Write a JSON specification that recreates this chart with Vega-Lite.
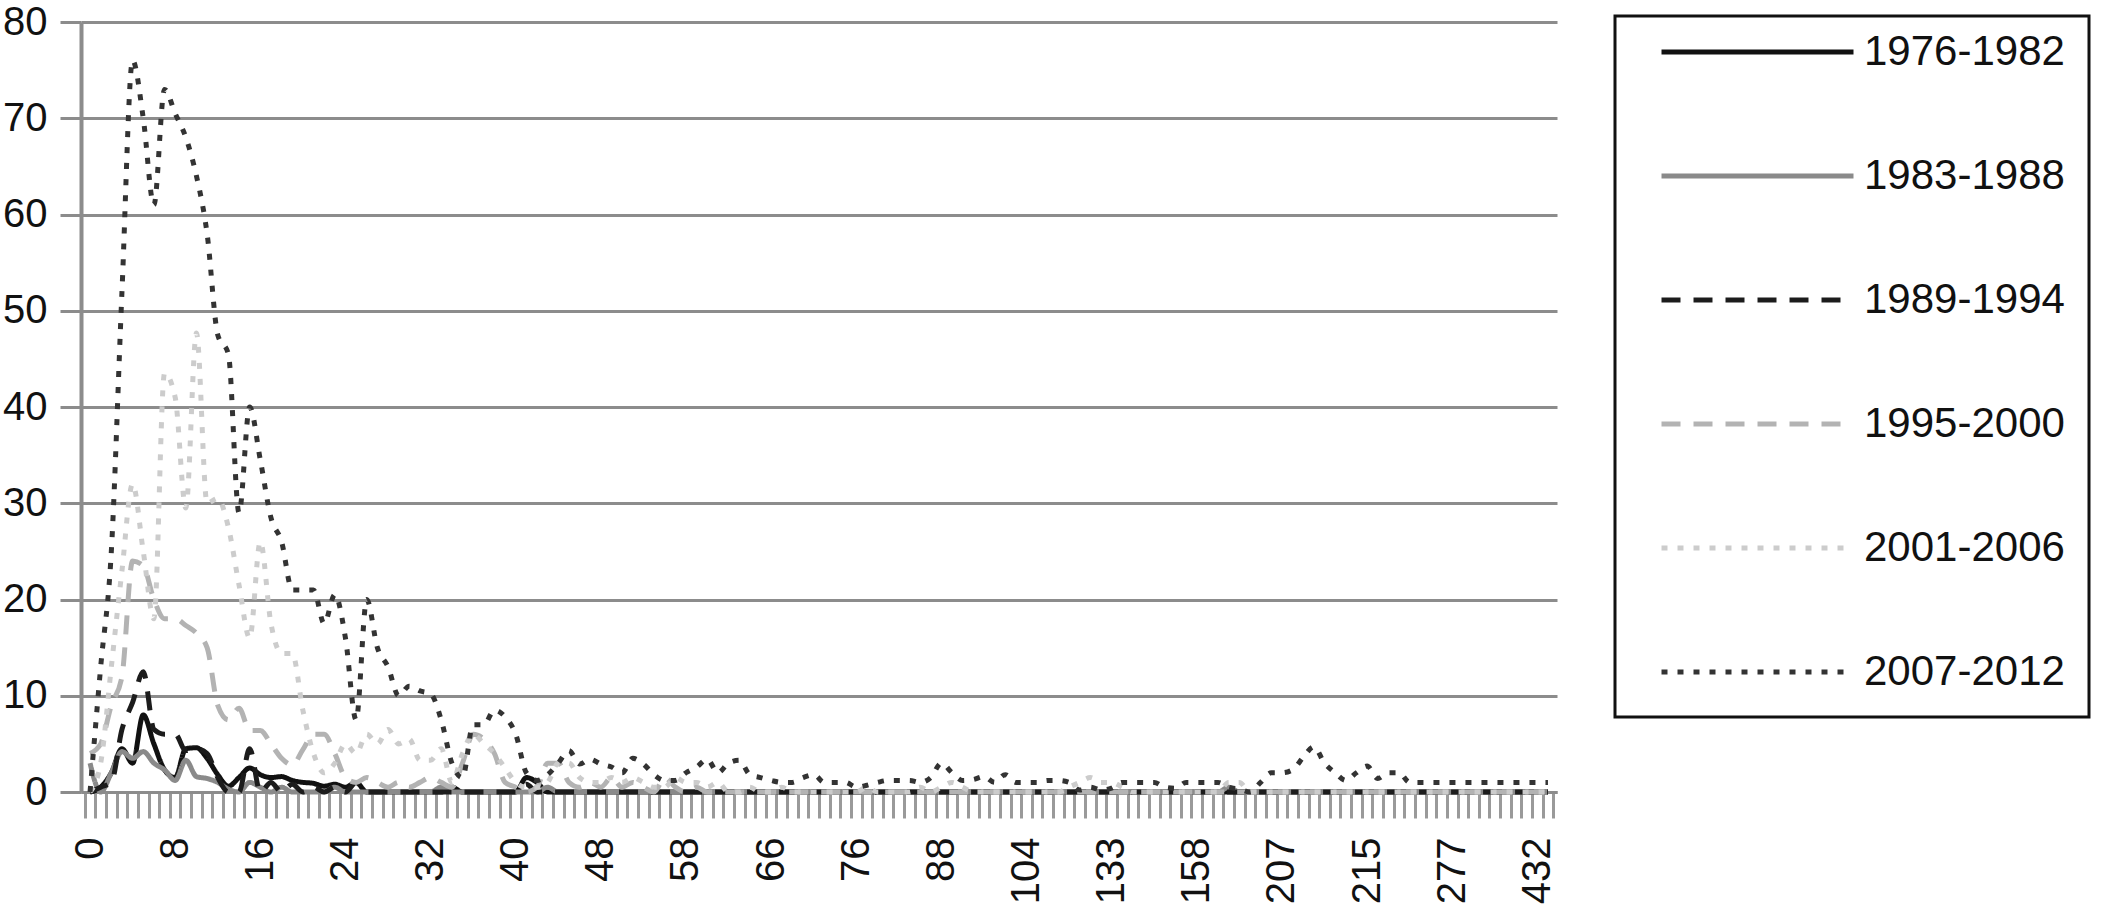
{
  "$schema": "https://vega.github.io/schema/vega-lite/v6.json",
  "width": 1476,
  "height": 770,
  "autosize": {"type": "none"},
  "padding": {"left": 81, "top": 22, "right": 558, "bottom": 112},
  "background": "white",
  "config": {
    "view": {"stroke": null},
    "font": "Liberation Sans",
    "legend": {"strokeWidth": 3}
  },
  "data": {
    "values": [
      {"d":0,"pA":0,"pB":3,"pC":0,"pD":4,"pE":0,"pF":0},
      {"d":1,"pA":0.5,"pB":0,"pC":0.5,"pD":5,"pE":3,"pF":13},
      {"d":2,"pA":2,"pB":2,"pC":1,"pD":9,"pE":13,"pF":25},
      {"d":3,"pA":4.5,"pB":4.2,"pC":6.5,"pD":12,"pE":23,"pF":52},
      {"d":4,"pA":3,"pB":3.5,"pC":9.3,"pD":24,"pE":32,"pF":76},
      {"d":5,"pA":8,"pB":4.2,"pC":12.5,"pD":23.5,"pE":25,"pF":70},
      {"d":6,"pA":5,"pB":3,"pC":6.5,"pD":20,"pE":18,"pF":61},
      {"d":7,"pA":2.3,"pB":2.3,"pC":6,"pD":18,"pE":43.5,"pF":73},
      {"d":8,"pA":1.5,"pB":1.2,"pC":6,"pD":18,"pE":41,"pF":70.5},
      {"d":9,"pA":4.5,"pB":3.3,"pC":4.3,"pD":17.3,"pE":29.5,"pF":68},
      {"d":10,"pA":4.6,"pB":1.6,"pC":4.5,"pD":16.5,"pE":47.7,"pF":64},
      {"d":11,"pA":3.5,"pB":1.4,"pC":4,"pD":15,"pE":30,"pF":58},
      {"d":12,"pA":1.8,"pB":1,"pC":1.5,"pD":9,"pE":30.5,"pF":47.5},
      {"d":13,"pA":0.6,"pB":0.3,"pC":0,"pD":7.5,"pE":27.5,"pF":45.5},
      {"d":14,"pA":1.5,"pB":0,"pC":0,"pD":8.7,"pE":21.5,"pF":29},
      {"d":15,"pA":2.5,"pB":1,"pC":4.5,"pD":6.4,"pE":16,"pF":40},
      {"d":16,"pA":1.8,"pB":0.5,"pC":0,"pD":6.4,"pE":26,"pF":34.5},
      {"d":17,"pA":1.5,"pB":0,"pC":1,"pD":5,"pE":17.5,"pF":28.5},
      {"d":18,"pA":1.6,"pB":0.5,"pC":0,"pD":3.5,"pE":14.4,"pF":26},
      {"d":19,"pA":1.2,"pB":0,"pC":0.8,"pD":2.8,"pE":14.4,"pF":21},
      {"d":20,"pA":1,"pB":0,"pC":0,"pD":4.4,"pE":8.5,"pF":21},
      {"d":21,"pA":0.9,"pB":0,"pC":0.5,"pD":6,"pE":4,"pF":21},
      {"d":22,"pA":0.6,"pB":0,"pC":0,"pD":6,"pE":2,"pF":17.5},
      {"d":23,"pA":0.8,"pB":0.5,"pC":0.5,"pD":4,"pE":3,"pF":20.5},
      {"d":24,"pA":0.5,"pB":0,"pC":0,"pD":1.5,"pE":5,"pF":16},
      {"d":25,"pA":1,"pB":0,"pC":1,"pD":1,"pE":4,"pF":7.5},
      {"d":26,"pA":0,"pB":0,"pC":0,"pD":1.5,"pE":6,"pF":20},
      {"d":27,"pA":0,"pB":0,"pC":0,"pD":1,"pE":5,"pF":15},
      {"d":28,"pA":0,"pB":0,"pC":0,"pD":0.5,"pE":6.5,"pF":13},
      {"d":29,"pA":0,"pB":0,"pC":0,"pD":1,"pE":5,"pF":10},
      {"d":30,"pA":0,"pB":0,"pC":0,"pD":0.5,"pE":5.5,"pF":11},
      {"d":31,"pA":0,"pB":0,"pC":0,"pD":1,"pE":3.3,"pF":10.5},
      {"d":32,"pA":0,"pB":0,"pC":0,"pD":1.5,"pE":3.3,"pF":10.2},
      {"d":33,"pA":0,"pB":0.5,"pC":0,"pD":1,"pE":4.5,"pF":7.5},
      {"d":34,"pA":0.5,"pB":0,"pC":0,"pD":0.5,"pE":1,"pF":3},
      {"d":35,"pA":0,"pB":0,"pC":0,"pD":3,"pE":4,"pF":1.5},
      {"d":36,"pA":0,"pB":0,"pC":0,"pD":6,"pE":6,"pF":7},
      {"d":37,"pA":0,"pB":0,"pC":0,"pD":5.5,"pE":5,"pF":7},
      {"d":38,"pA":0,"pB":0,"pC":0,"pD":4,"pE":4,"pF":8.5},
      {"d":39,"pA":0,"pB":0,"pC":0,"pD":1,"pE":2.5,"pF":7.8},
      {"d":40,"pA":0,"pB":0,"pC":0,"pD":0.5,"pE":1,"pF":6},
      {"d":41,"pA":1.5,"pB":0,"pC":0.8,"pD":0,"pE":0.5,"pF":2},
      {"d":42,"pA":1,"pB":0,"pC":0,"pD":0.5,"pE":0.5,"pF":1.2},
      {"d":43,"pA":0,"pB":0.5,"pC":0,"pD":3,"pE":1,"pF":1.8},
      {"d":44,"pA":0,"pB":0,"pC":0,"pD":3,"pE":3,"pF":3},
      {"d":45,"pA":0,"pB":0,"pC":0,"pD":1,"pE":3,"pF":4.3},
      {"d":46,"pA":0,"pB":0,"pC":0,"pD":0.5,"pE":1.5,"pF":2.9},
      {"d":47,"pA":0,"pB":0,"pC":0,"pD":1,"pE":1,"pF":3.4},
      {"d":48,"pA":0,"pB":0,"pC":0,"pD":0.5,"pE":1,"pF":2.9},
      {"d":49,"pA":0,"pB":0,"pC":0,"pD":1.5,"pE":1.5,"pF":2.6},
      {"d":50,"pA":0,"pB":0,"pC":0,"pD":0.5,"pE":1,"pF":2},
      {"d":51,"pA":0,"pB":0,"pC":0,"pD":1,"pE":1.5,"pF":3.5},
      {"d":52,"pA":0,"pB":0,"pC":0,"pD":0.5,"pE":1,"pF":2.9},
      {"d":53,"pA":0,"pB":0,"pC":0,"pD":0,"pE":0.5,"pF":1.8},
      {"d":54,"pA":0,"pB":0,"pC":0,"pD":1.5,"pE":0.5,"pF":1.2},
      {"d":56,"pA":0,"pB":0,"pC":0,"pD":0.5,"pE":1.5,"pF":1.2},
      {"d":58,"pA":0,"pB":0,"pC":0,"pD":0,"pE":1,"pF":2},
      {"d":59,"pA":0,"pB":0,"pC":0,"pD":0.5,"pE":1,"pF":2.6},
      {"d":60,"pA":0,"pB":0,"pC":0,"pD":0,"pE":0.5,"pF":3.4},
      {"d":61,"pA":0,"pB":0,"pC":0,"pD":0,"pE":1,"pF":2},
      {"d":62,"pA":0,"pB":0,"pC":0,"pD":0,"pE":0,"pF":3},
      {"d":63,"pA":0,"pB":0,"pC":0,"pD":0,"pE":0,"pF":3.3},
      {"d":64,"pA":0,"pB":0,"pC":0,"pD":0,"pE":0.5,"pF":1.8},
      {"d":65,"pA":0,"pB":0,"pC":0,"pD":0,"pE":0,"pF":1.5},
      {"d":66,"pA":0,"pB":0,"pC":0,"pD":0,"pE":0,"pF":1.2},
      {"d":67,"pA":0,"pB":0,"pC":0,"pD":0,"pE":0.5,"pF":1},
      {"d":68,"pA":0,"pB":0,"pC":0,"pD":0,"pE":0,"pF":1},
      {"d":69,"pA":0,"pB":0,"pC":0,"pD":0,"pE":0,"pF":1.5},
      {"d":70,"pA":0,"pB":0,"pC":0,"pD":0,"pE":0,"pF":1.8},
      {"d":72,"pA":0,"pB":0,"pC":0,"pD":0,"pE":0,"pF":1},
      {"d":73,"pA":0,"pB":0,"pC":0,"pD":0,"pE":0,"pF":1},
      {"d":74,"pA":0,"pB":0,"pC":0,"pD":0,"pE":0,"pF":1},
      {"d":76,"pA":0,"pB":0,"pC":0,"pD":0,"pE":0,"pF":0.5},
      {"d":77,"pA":0,"pB":0,"pC":0,"pD":0,"pE":0.5,"pF":0.7},
      {"d":78,"pA":0,"pB":0,"pC":0,"pD":0,"pE":0,"pF":1},
      {"d":80,"pA":0,"pB":0,"pC":0,"pD":0,"pE":0,"pF":1.2},
      {"d":82,"pA":0,"pB":0,"pC":0,"pD":0,"pE":0,"pF":1.2},
      {"d":84,"pA":0,"pB":0,"pC":0,"pD":0,"pE":0,"pF":1.2},
      {"d":85,"pA":0,"pB":0,"pC":0,"pD":0,"pE":0.5,"pF":1},
      {"d":86,"pA":0,"pB":0,"pC":0,"pD":0,"pE":0,"pF":1.5},
      {"d":88,"pA":0,"pB":0,"pC":0,"pD":0,"pE":0.5,"pF":3},
      {"d":90,"pA":0,"pB":0,"pC":0,"pD":0,"pE":1,"pF":2},
      {"d":92,"pA":0,"pB":0,"pC":0,"pD":0,"pE":0.5,"pF":1.2},
      {"d":94,"pA":0,"pB":0,"pC":0,"pD":0,"pE":0,"pF":1.3},
      {"d":96,"pA":0,"pB":0,"pC":0,"pD":0,"pE":0,"pF":1.6},
      {"d":98,"pA":0,"pB":0,"pC":0,"pD":0,"pE":0,"pF":1},
      {"d":100,"pA":0,"pB":0,"pC":0,"pD":0,"pE":0,"pF":1.8},
      {"d":102,"pA":0,"pB":0,"pC":0,"pD":0,"pE":0,"pF":1},
      {"d":104,"pA":0,"pB":0,"pC":0,"pD":0,"pE":0,"pF":1},
      {"d":106,"pA":0,"pB":0,"pC":0,"pD":0,"pE":0,"pF":1},
      {"d":108,"pA":0,"pB":0,"pC":0,"pD":0,"pE":0,"pF":1.2},
      {"d":110,"pA":0,"pB":0,"pC":0,"pD":0,"pE":0,"pF":1.2},
      {"d":113,"pA":0,"pB":0,"pC":0,"pD":0,"pE":0.5,"pF":1},
      {"d":118,"pA":0,"pB":0,"pC":0,"pD":0,"pE":1,"pF":0.2},
      {"d":122,"pA":0,"pB":0,"pC":0,"pD":0,"pE":1.5,"pF":0.5},
      {"d":127,"pA":0,"pB":0,"pC":0,"pD":0,"pE":1,"pF":0.2},
      {"d":133,"pA":0,"pB":0,"pC":0,"pD":0,"pE":1,"pF":0.4},
      {"d":136,"pA":0,"pB":0,"pC":0,"pD":0,"pE":0.5,"pF":1},
      {"d":139,"pA":0,"pB":0,"pC":0,"pD":0,"pE":0,"pF":1},
      {"d":142,"pA":0,"pB":0,"pC":0,"pD":0,"pE":0,"pF":1},
      {"d":145,"pA":0,"pB":0,"pC":0,"pD":0,"pE":0,"pF":1},
      {"d":148,"pA":0,"pB":0,"pC":0,"pD":0,"pE":0,"pF":0.5},
      {"d":151,"pA":0,"pB":0,"pC":0,"pD":0,"pE":0,"pF":0.4},
      {"d":155,"pA":0,"pB":0,"pC":0,"pD":0,"pE":0,"pF":1},
      {"d":158,"pA":0,"pB":0,"pC":0,"pD":0,"pE":0,"pF":1},
      {"d":162,"pA":0,"pB":0,"pC":0,"pD":0,"pE":0,"pF":1},
      {"d":168,"pA":0,"pB":0,"pC":0,"pD":0,"pE":0,"pF":1},
      {"d":175,"pA":0,"pB":0.5,"pC":0,"pD":0,"pE":1,"pF":0.5},
      {"d":182,"pA":0,"pB":0,"pC":0,"pD":0,"pE":1,"pF":0.3},
      {"d":190,"pA":0,"pB":0,"pC":0,"pD":0,"pE":0,"pF":0},
      {"d":196,"pA":0,"pB":0,"pC":0,"pD":0,"pE":0,"pF":1},
      {"d":202,"pA":0,"pB":0,"pC":0,"pD":0,"pE":0,"pF":2},
      {"d":207,"pA":0,"pB":0,"pC":0,"pD":0,"pE":0,"pF":2},
      {"d":208,"pA":0,"pB":0,"pC":0,"pD":0,"pE":0,"pF":2.3},
      {"d":209,"pA":0,"pB":0,"pC":0,"pD":0,"pE":0,"pF":3.6},
      {"d":210,"pA":0,"pB":0,"pC":0,"pD":0,"pE":0,"pF":4.7},
      {"d":211,"pA":0,"pB":0,"pC":0,"pD":0,"pE":0,"pF":3},
      {"d":212,"pA":0,"pB":0,"pC":0,"pD":0,"pE":0,"pF":2},
      {"d":213,"pA":0,"pB":0,"pC":0,"pD":0,"pE":0,"pF":1.2},
      {"d":214,"pA":0,"pB":0,"pC":0,"pD":0,"pE":0,"pF":2},
      {"d":215,"pA":0,"pB":0,"pC":0,"pD":0,"pE":0,"pF":2.7},
      {"d":218,"pA":0,"pB":0,"pC":0,"pD":0,"pE":0,"pF":1.4},
      {"d":222,"pA":0,"pB":0,"pC":0,"pD":0,"pE":0,"pF":2},
      {"d":228,"pA":0,"pB":0,"pC":0,"pD":0,"pE":0,"pF":2},
      {"d":235,"pA":0,"pB":0,"pC":0,"pD":0,"pE":0,"pF":1},
      {"d":245,"pA":0,"pB":0,"pC":0,"pD":0,"pE":0,"pF":1},
      {"d":255,"pA":0,"pB":0,"pC":0,"pD":0,"pE":0,"pF":1},
      {"d":266,"pA":0,"pB":0,"pC":0,"pD":0,"pE":0,"pF":1},
      {"d":277,"pA":0,"pB":0,"pC":0,"pD":0,"pE":0,"pF":1},
      {"d":290,"pA":0,"pB":0,"pC":0,"pD":0,"pE":0,"pF":1},
      {"d":305,"pA":0,"pB":0,"pC":0,"pD":0,"pE":0,"pF":1},
      {"d":320,"pA":0,"pB":0,"pC":0,"pD":0,"pE":0,"pF":1},
      {"d":340,"pA":0,"pB":0,"pC":0,"pD":0,"pE":0,"pF":1},
      {"d":360,"pA":0,"pB":0,"pC":0,"pD":0,"pE":0,"pF":1},
      {"d":385,"pA":0,"pB":0,"pC":0,"pD":0,"pE":0,"pF":1},
      {"d":410,"pA":0,"pB":0,"pC":0,"pD":0,"pE":0,"pF":1},
      {"d":432,"pA":0,"pB":0,"pC":0,"pD":0,"pE":0,"pF":1},
      {"d":520,"pA":0,"pB":0,"pC":0,"pD":0,"pE":0,"pF":1}
    ]
  },
  "transform": [
    {"fold": ["pA", "pB", "pC", "pD", "pE", "pF"], "as": ["period", "value"]}
  ],
  "mark": {"type": "line", "interpolate": "monotone", "strokeWidth": 5, "strokeCap": "butt", "strokeJoin": "round"},
  "encoding": {
    "x": {
      "field": "d",
      "type": "ordinal",
      "bandPosition": 0.5,
      "scale": {"type": "band", "paddingInner": 0, "paddingOuter": 0.35},
      "axis": {
        "title": null,
        "grid": false,
        "domain": true,
        "domainColor": "#8c8c8c",
        "domainWidth": 3,
        "ticks": true,
        "tickBand": "extent",
        "tickSize": 26,
        "tickWidth": 3,
        "tickColor": "#9a9a9a",
        "labelAngle": -90,
        "labelPadding": 19,
        "labelFontSize": 40,
        "labelColor": "#111111",
        "labelOverlap": false,
        "labelExpr": "indexof([0,8,16,24,32,40,48,58,66,76,88,104,133,158,207,215,277,432], datum.value) >= 0 ? datum.label : ''"
      }
    },
    "y": {
      "field": "value",
      "type": "quantitative",
      "scale": {"domain": [0, 80], "nice": false},
      "axis": {
        "title": null,
        "values": [0, 10, 20, 30, 40, 50, 60, 70, 80],
        "grid": true,
        "gridColor": "#8c8c8c",
        "gridWidth": 3,
        "gridOpacity": 1,
        "domain": true,
        "domainColor": "#8c8c8c",
        "domainWidth": 4,
        "ticks": true,
        "tickSize": 21,
        "tickWidth": 3,
        "tickColor": "#8c8c8c",
        "labelFontSize": 40,
        "labelPadding": 13,
        "labelColor": "#111111"
      }
    },
    "color": {
      "field": "period",
      "type": "nominal",
      "scale": {
        "domain": ["pA", "pB", "pC", "pD", "pE", "pF"],
        "range": ["#111111", "#8a8a8a", "#1c1c1c", "#b3b3b3", "#cccccc", "#333333"]
      },
      "legend": {
        "title": null,
        "orient": "none",
        "legendX": 1534,
        "legendY": -6,
        "symbolType": "stroke",
        "symbolSize": 36864,
        "symbolStrokeWidth": 5,
        "symbolOffset": 20,
        "labelFontSize": 42,
        "labelColor": "#111111",
        "labelOffset": 8,
        "labelLimit": 500,
        "padding": 24,
        "clipHeight": 24,
        "rowPadding": 82,
        "strokeColor": "#111111",
        "labelExpr": "{'pA':'1976-1982','pB':'1983-1988','pC':'1989-1994','pD':'1995-2000','pE':'2001-2006','pF':'2007-2012'}[datum.label]"
      }
    },
    "strokeDash": {
      "field": "period",
      "type": "nominal",
      "scale": {
        "domain": ["pA", "pB", "pC", "pD", "pE", "pF"],
        "range": [[1, 0], [1, 0], [19, 13], [19, 13], [6, 10], [6, 10]]
      },
      "legend": {
        "title": null,
        "orient": "none",
        "legendX": 1534,
        "legendY": -6,
        "symbolType": "stroke",
        "symbolSize": 36864,
        "symbolStrokeWidth": 5,
        "symbolOffset": 20,
        "labelFontSize": 42,
        "labelColor": "#111111",
        "labelOffset": 8,
        "labelLimit": 500,
        "padding": 24,
        "clipHeight": 24,
        "rowPadding": 82,
        "strokeColor": "#111111",
        "labelExpr": "{'pA':'1976-1982','pB':'1983-1988','pC':'1989-1994','pD':'1995-2000','pE':'2001-2006','pF':'2007-2012'}[datum.label]"
      }
    }
  }
}
